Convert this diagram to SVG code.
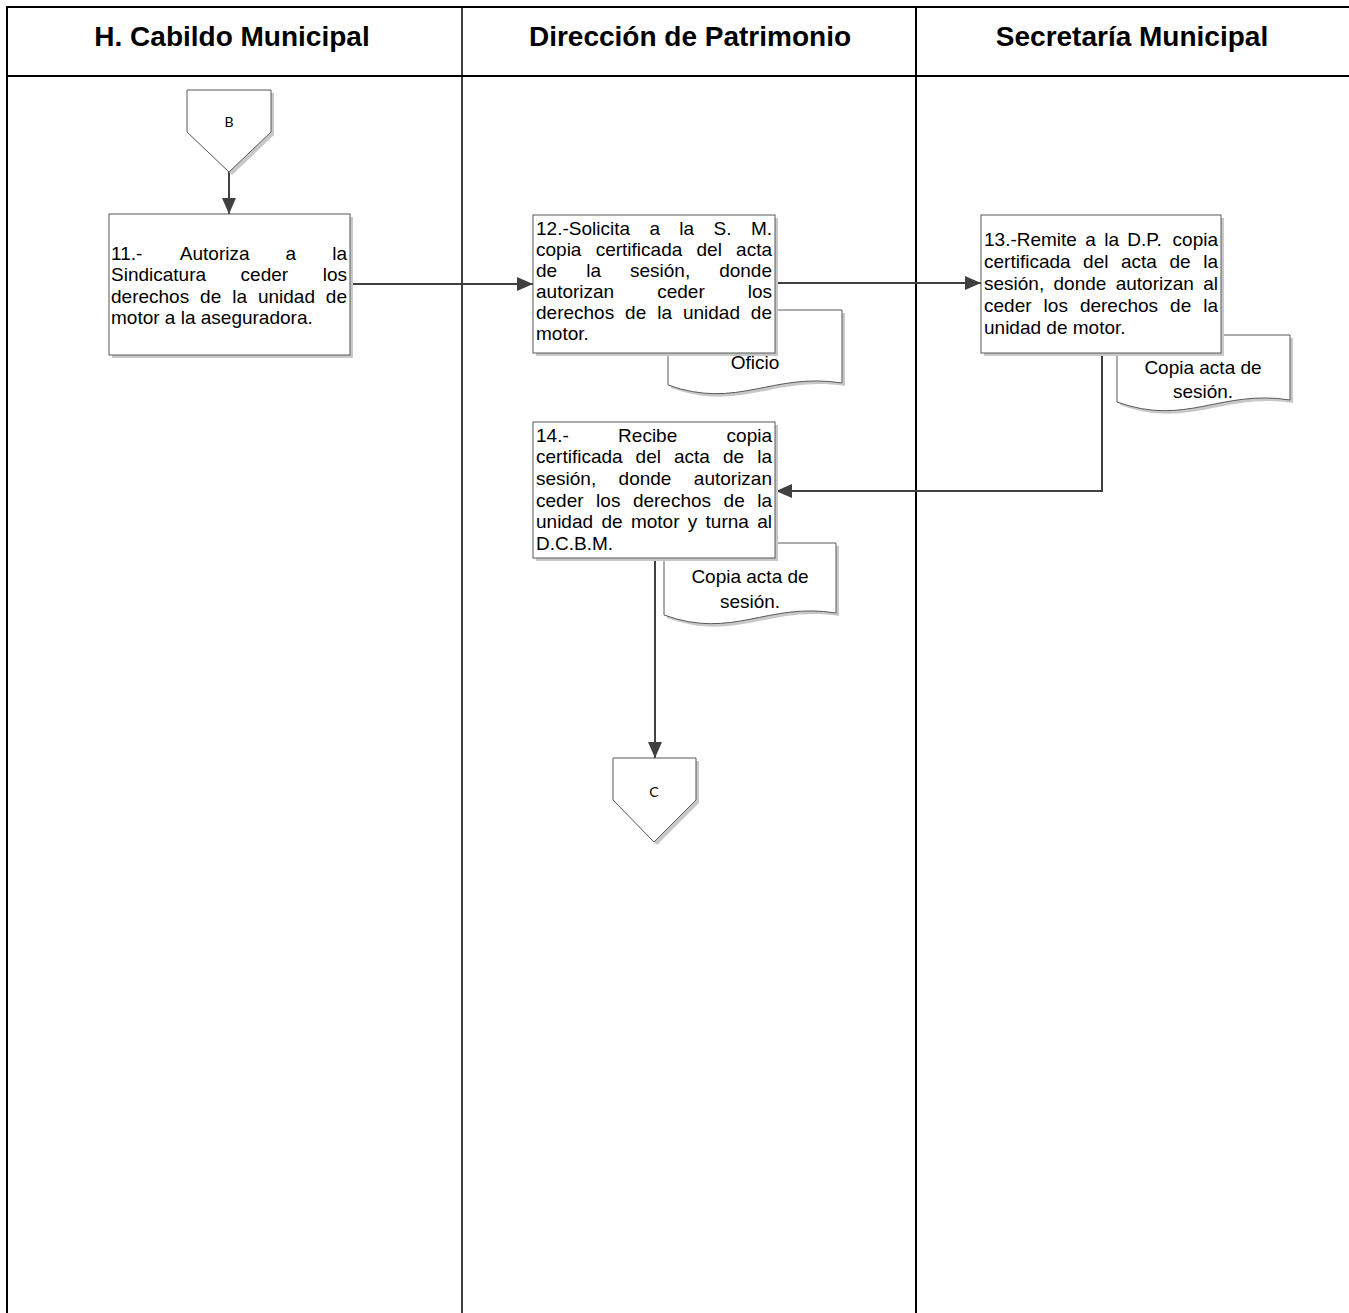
<svg xmlns="http://www.w3.org/2000/svg" width="1349" height="1313" viewBox="0 0 1349 1313">
<defs>
<style>
.frame{stroke:#000;fill:none}
.hdr{font-family:"Liberation Sans",Arial,sans-serif;font-weight:bold;font-size:28px;fill:#000;text-anchor:middle}
.box{fill:#fff;stroke:#595959;stroke-width:1}
.shadow{fill:#c8c8c8;stroke:none}
.t{font-family:"Liberation Sans",Arial,sans-serif;font-size:19px;fill:#000}
.te{font-family:"Liberation Sans",Arial,sans-serif;font-size:19px;fill:#000;text-anchor:end}
.tc{font-family:"Liberation Sans",Arial,sans-serif;font-size:19px;fill:#000;text-anchor:middle}
.lbl{font-family:Lato,"Open Sans",sans-serif;font-size:14px;fill:#000;text-anchor:middle}
.conn{stroke:#404040;stroke-width:2;fill:none}
</style>
<marker id="arr" markerUnits="userSpaceOnUse" markerWidth="16" markerHeight="14" refX="16" refY="7" orient="auto">
<path d="M0,0 L16,7 L0,14 z" fill="#404040"/>
</marker>
</defs>
<rect width="1349" height="1313" fill="#fff"/>
<g id="frame">
<line class="frame" x1="6" y1="7" x2="1349" y2="7" stroke-width="2"/>
<line class="frame" x1="6" y1="76" x2="1349" y2="76" stroke-width="2"/>
<line class="frame" x1="7" y1="6" x2="7" y2="1313" stroke-width="2"/>
<line class="frame" x1="462" y1="7" x2="462" y2="1313" stroke-width="1.5"/>
<line class="frame" x1="916" y1="7" x2="916" y2="1313" stroke-width="2"/>
<text class="hdr" x="232" y="46">H. Cabildo Municipal</text>
<text class="hdr" x="690" y="46">Dirección de Patrimonio</text>
<text class="hdr" x="1132" y="46">Secretaría Municipal</text>
</g>
<g id="connectors">
<line class="conn" x1="229" y1="172" x2="229" y2="214" marker-end="url(#arr)"/>
<line class="conn" x1="350" y1="284" x2="533" y2="284" marker-end="url(#arr)"/>
<line class="conn" x1="775" y1="283" x2="981" y2="283" marker-end="url(#arr)"/>
<polyline class="conn" points="1102,353 1102,491 776,491" marker-end="url(#arr)"/>
<line class="conn" x1="655" y1="558" x2="655" y2="758" marker-end="url(#arr)"/>
</g>
<g id="conB">
<polygon class="shadow" points="190,93 274,93 274,135 232,175 190,135"/>
<polygon class="box" points="187,90 271,90 271,132 229,172 187,132"/>
<text class="lbl" x="229" y="127">B</text>
</g>
<g id="n11">
<rect class="shadow" x="112" y="217" width="241" height="141"/>
<rect class="box" x="109" y="214" width="241" height="141"/>
<text class="t" x="111" y="259.5">11.-</text><text class="t" x="179.8" y="259.5">Autoriza</text><text class="t" x="285.6" y="259.5">a</text><text class="te" x="347" y="259.5">la</text>
<text class="t" x="111" y="281">Sindicatura</text><text class="t" x="240.6" y="281">ceder</text><text class="te" x="347" y="281">los</text>
<text class="t" x="111" y="302.5">derechos</text><text class="t" x="200.1" y="302.5">de</text><text class="t" x="232.2" y="302.5">la</text><text class="t" x="257.9" y="302.5">unidad</text><text class="te" x="347" y="302.5">de</text>
<text class="t" x="111" y="324">motor a la aseguradora.</text>
</g>
<g id="doc12">
<path class="shadow" d="M671,313 H845 V386 C775,375 741,413 671,388 Z"/>
<path class="box" d="M668,310 H842 V383 C772,372 738,410 668,385 Z"/>
<text class="tc" x="755" y="369">Oficio</text>
</g>
<g id="n12">
<rect class="shadow" x="536" y="218" width="242" height="138"/>
<rect class="box" x="533" y="215" width="242" height="138"/>
<text class="t" x="536" y="235">12.-Solicita</text><text class="t" x="649.4" y="235">a</text><text class="t" x="679.3" y="235">la</text><text class="t" x="713.5" y="235">S.</text><text class="te" x="772" y="235">M.</text>
<text class="t" x="536" y="256">copia</text><text class="t" x="595.7" y="256">certificada</text><text class="t" x="696.5" y="256">del</text><text class="te" x="772" y="256">acta</text>
<text class="t" x="536" y="277">de</text><text class="t" x="586.2" y="277">la</text><text class="t" x="630" y="277">sesión,</text><text class="te" x="772" y="277">donde</text>
<text class="t" x="536" y="298">autorizan</text><text class="t" x="657.2" y="298">ceder</text><text class="te" x="772" y="298">los</text>
<text class="t" x="536" y="319">derechos</text><text class="t" x="625.1" y="319">de</text><text class="t" x="657.2" y="319">la</text><text class="t" x="682.9" y="319">unidad</text><text class="te" x="772" y="319">de</text>
<text class="t" x="536" y="340">motor.</text>
</g>
<g id="doc13">
<path class="shadow" d="M1120,338 H1293 V403 C1224,392 1189,430 1120,405 Z"/>
<path class="box" d="M1117,335 H1290 V400 C1221,389 1186,427 1117,402 Z"/>
<text class="tc" x="1203" y="374">Copia acta de</text>
<text class="tc" x="1203" y="398">sesión.</text>
</g>
<g id="n13">
<rect class="shadow" x="984" y="218" width="240" height="138"/>
<rect class="box" x="981" y="215" width="240" height="138"/>
<text class="t" x="984" y="246">13.-Remite</text><text class="t" x="1085.3" y="246">a</text><text class="t" x="1104.2" y="246">la</text><text class="t" x="1127.3" y="246">D.P.</text><text class="te" x="1218" y="246">copia</text>
<text class="t" x="984" y="268">certificada</text><text class="t" x="1083.1" y="268">del</text><text class="t" x="1121" y="268">acta</text><text class="t" x="1169.5" y="268">de</text><text class="te" x="1218" y="268">la</text>
<text class="t" x="984" y="290">sesión,</text><text class="t" x="1053.5" y="290">donde</text><text class="t" x="1115.7" y="290">autorizan</text><text class="te" x="1218" y="290">al</text>
<text class="t" x="984" y="312">ceder</text><text class="t" x="1043.6" y="312">los</text><text class="t" x="1079.9" y="312">derechos</text><text class="t" x="1170.1" y="312">de</text><text class="te" x="1218" y="312">la</text>
<text class="t" x="984" y="334">unidad de motor.</text>
</g>
<g id="doc14">
<path class="shadow" d="M667,546 H839 V616 C770,605 736,643 667,618 Z"/>
<path class="box" d="M664,543 H836 V613 C767,602 733,640 664,615 Z"/>
<text class="tc" x="750" y="583">Copia acta de</text>
<text class="tc" x="750" y="608">sesión.</text>
</g>
<g id="n14">
<rect class="shadow" x="536" y="425" width="242" height="136"/>
<rect class="box" x="533" y="422" width="242" height="136"/>
<text class="t" x="536" y="441.7">14.-</text><text class="t" x="618.1" y="441.7">Recibe</text><text class="te" x="772" y="441.7">copia</text>
<text class="t" x="536" y="463.3">certificada</text><text class="t" x="635.6" y="463.3">del</text><text class="t" x="674" y="463.3">acta</text><text class="t" x="723" y="463.3">de</text><text class="te" x="772" y="463.3">la</text>
<text class="t" x="536" y="484.9">sesión,</text><text class="t" x="618.6" y="484.9">donde</text><text class="te" x="772" y="484.9">autorizan</text>
<text class="t" x="536" y="506.5">ceder</text><text class="t" x="596.1" y="506.5">los</text><text class="t" x="632.9" y="506.5">derechos</text><text class="t" x="723.6" y="506.5">de</text><text class="te" x="772" y="506.5">la</text>
<text class="t" x="536" y="528.1">unidad</text><text class="t" x="601.4" y="528.1">de</text><text class="t" x="630.9" y="528.1">motor</text><text class="t" x="687.8" y="528.1">y</text><text class="t" x="705.6" y="528.1">turna</text><text class="te" x="772" y="528.1">al</text>
<text class="t" x="536" y="549.7">D.C.B.M.</text>
</g>
<g id="conC">
<polygon class="shadow" points="616,761 699,761 699,803 657,845 616,803"/>
<polygon class="box" points="613,758 696,758 696,800 654,842 613,800"/>
<text class="lbl" x="654" y="797">C</text>
</g>
</svg>
